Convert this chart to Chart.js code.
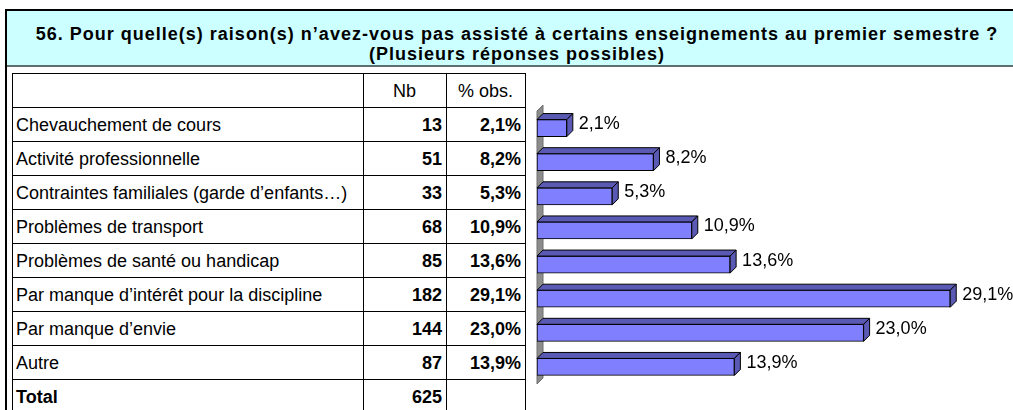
<!DOCTYPE html>
<html>
<head>
<meta charset="utf-8">
<script src="https://cdn.jsdelivr.net/npm/chart.js@4.4.1/dist/chart.umd.min.js"></script>
<style>
  html, body { margin: 0; padding: 0; background: #fff; }
  body { width: 1013px; height: 410px; position: relative; overflow: hidden; font-family: Arial, "Liberation Sans", sans-serif; }
  #frame { position: absolute; left: 5px; top: 9px; width: 2px; height: 410px; background: #000; }
  #title {
    position: absolute; left: 7px; top: 9px; width: 1006px; height: 58px;
    background: #ccffff; border-top: 2px solid #000; border-bottom: 2px solid #5f6f6f;
    font-weight: bold; font-size: 18px; text-align: center; line-height: 20px;
    padding: 13px 0 0 14px; box-sizing: border-box; letter-spacing: 1px;
  }
  #grid { position: absolute; left: 12px; top: 73px; border-collapse: collapse; font-size: 18px; }
  #grid td { border: 1px solid #000; height: 34px; padding: 1px 4px 0 3px; box-sizing: border-box; white-space: nowrap; }
  #grid td.num { text-align: right; font-weight: bold; }
  #grid tr.head td { text-align: center; font-weight: normal; }
  #grid tr.total td { font-weight: bold; }
  #chartBox { position: absolute; left: 526px; top: 66px; }
</style>
</head>
<body>
<div id="frame"></div>
<div id="title">56. Pour quelle(s) raison(s) n’avez-vous pas assisté à certains enseignements au premier semestre ?<br>(Plusieurs réponses possibles)</div>
<table id="grid"></table>
<div id="chartBox"><canvas id="myChart" width="487" height="344"></canvas></div>

<script>
const categories = [
  'Chevauchement de cours',
  'Activité professionnelle',
  'Contraintes familiales (garde d’enfants…)',
  'Problèmes de transport',
  'Problèmes de santé ou handicap',
  'Par manque d’intérêt pour la discipline',
  'Par manque d’envie',
  'Autre'
];
const counts = [13, 51, 33, 68, 85, 182, 144, 87];
const percents = [2.1, 8.2, 5.3, 10.9, 13.6, 29.1, 23.0, 13.9];
const total = 625;

const fmtPct = v => v.toFixed(1).replace('.', ',') + '%';

// table on the left
const grid = document.getElementById('grid');
let rows = '<tr class="head"><td style="width:351px"></td><td style="width:83px">Nb</td><td style="width:79px">% obs.</td></tr>';
categories.forEach((c, i) => {
  rows += `<tr><td>${c}</td><td class="num">${counts[i]}</td><td class="num">${fmtPct(percents[i])}</td></tr>`;
});
rows += `<tr class="total"><td>Total</td><td class="num">${total}</td><td></td></tr>`;
grid.innerHTML = rows;

const DEPTH = 6;

// grey back wall behind the bars
const wall = {
  id: 'wall',
  beforeDatasetsDraw(chart) {
    const { ctx, chartArea: { top, bottom }, scales: { x } } = chart;
    const left = x.getPixelForValue(0);
    ctx.save();
    ctx.beginPath();
    ctx.moveTo(left, top);
    ctx.lineTo(left + DEPTH, top - DEPTH);
    ctx.lineTo(left + DEPTH, bottom - DEPTH);
    ctx.lineTo(left, bottom);
    ctx.closePath();
    ctx.fillStyle = '#8c8c8c';
    ctx.fill();
    ctx.strokeStyle = '#6e6e6e';
    ctx.lineWidth = 1;
    ctx.stroke();
    ctx.restore();
  }
};

// top and side faces + value labels
const bars3d = {
  id: 'bars3d',
  afterDatasetsDraw(chart) {
    const { ctx } = chart;
    const meta = chart.getDatasetMeta(0);
    ctx.save();
    ctx.lineWidth = 1;
    ctx.strokeStyle = '#000';
    ctx.fillStyle = '#5a5ab4';
    meta.data.forEach((bar, i) => {
      const { x, y, base, height } = bar.getProps(['x', 'y', 'base', 'height'], true);
      const t = y - height / 2, b = y + height / 2;
      ctx.beginPath();
      ctx.moveTo(base, t);
      ctx.lineTo(base + DEPTH, t - DEPTH);
      ctx.lineTo(x + DEPTH, t - DEPTH);
      ctx.lineTo(x, t);
      ctx.closePath();
      ctx.fill(); ctx.stroke();
      ctx.beginPath();
      ctx.moveTo(x, t);
      ctx.lineTo(x + DEPTH, t - DEPTH);
      ctx.lineTo(x + DEPTH, b - DEPTH);
      ctx.lineTo(x, b);
      ctx.closePath();
      ctx.fill(); ctx.stroke();
    });
    ctx.fillStyle = '#000';
    ctx.font = '18px Arial, "Liberation Sans", sans-serif';
    ctx.textAlign = 'left';
    ctx.textBaseline = 'middle';
    meta.data.forEach((bar, i) => {
      ctx.fillText(fmtPct(percents[i]), bar.x + 12, bar.y - 4);
    });
    ctx.restore();
  }
};

new Chart(document.getElementById('myChart'), {
  type: 'bar',
  data: {
    labels: categories,
    datasets: [{
      data: percents,
      backgroundColor: '#8080ff',
      borderColor: '#000',
      borderWidth: 1,
      borderSkipped: false,
      barThickness: 17
    }]
  },
  options: {
    indexAxis: 'y',
    responsive: false,
    animation: false,
    devicePixelRatio: 1,
    layout: { padding: { left: 11, top: 45, bottom: 26, right: 50 } },
    scales: {
      x: { display: false, min: 0, max: 30 },
      y: { display: false }
    },
    plugins: {
      legend: { display: false },
      tooltip: { enabled: false }
    }
  },
  plugins: [wall, bars3d]
});
</script>
</body>
</html>
